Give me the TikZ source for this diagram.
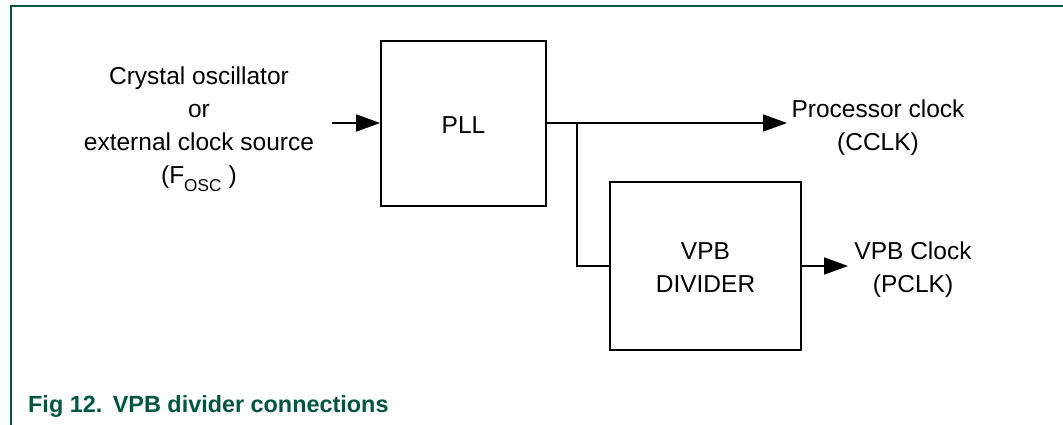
\documentclass[tikz,border=0pt]{standalone}
\usepackage{fontspec}
\setmainfont{Liberation Sans}
\usepackage{tikz}
\usepackage{xcolor}
\usetikzlibrary{arrows.meta}
\definecolor{figgreen}{RGB}{0,86,62}

\begin{document}
\begin{tikzpicture}[x=1pt,y=-1pt]%
  \tikzstyle{blk}=[rectangle,draw,line width=1.8pt,inner sep=0]
  \tikzstyle{lbl}=[align=center,inner sep=0,font=\fontsize{24.5}{33}\selectfont]
  \tikzstyle{wire}=[line width=1.8pt]
  \tikzstyle{arr}=[wire,-{Triangle[length=24pt,width=17pt]}]
  \useasboundingbox (0,0) rectangle (1063,425);
  % frame
  \draw[figgreen,line width=2pt] (11,425) -- (11,6) -- (1063,6);
  % blocks
  \node(pll)[blk,minimum width=165pt,minimum height=165pt] at (463.5,123.5) {};
  \node(plltxt)[lbl] at (463.5,125) {PLL};
  \node(vpb)[blk,minimum width=191pt,minimum height=168pt] at (705.5,266) {};
  \node(vpbtxt)[lbl] at (705.5,267.5) {VPB\\DIVIDER};
  % labels
  \node(osc)[lbl] at (199,129) {Crystal oscillator\\or\\external clock source\\(F\raisebox{-0.3ex}{\textsubscript{OSC}} )};
  \node(cclk)[lbl] at (878,127.5) {Processor clock\\(CCLK)};
  \node(pclk)[lbl] at (913,270) {VPB Clock\\(PCLK)};
  % connections
  \coordinate(in) at (332,123);
  \coordinate(out) at (787,123);
  \coordinate(br) at (577,123);
  \coordinate(pout) at (848,266);
  \draw[arr] (in) -- (pll.west |- in);
  \draw[arr] (pll.east |- out) -- (out);
  \draw[wire] (br) |- (vpb.west);
  \draw[arr] (vpb.east) -- (pout);
  % caption
  \node(cap)[anchor=base west,inner sep=0,text=figgreen,font=\fontsize{23.4}{28}\selectfont\bfseries] at (28,412) {Fig 12.\hspace{0.45em}VPB divider connections};
\end{tikzpicture}
\end{document}
